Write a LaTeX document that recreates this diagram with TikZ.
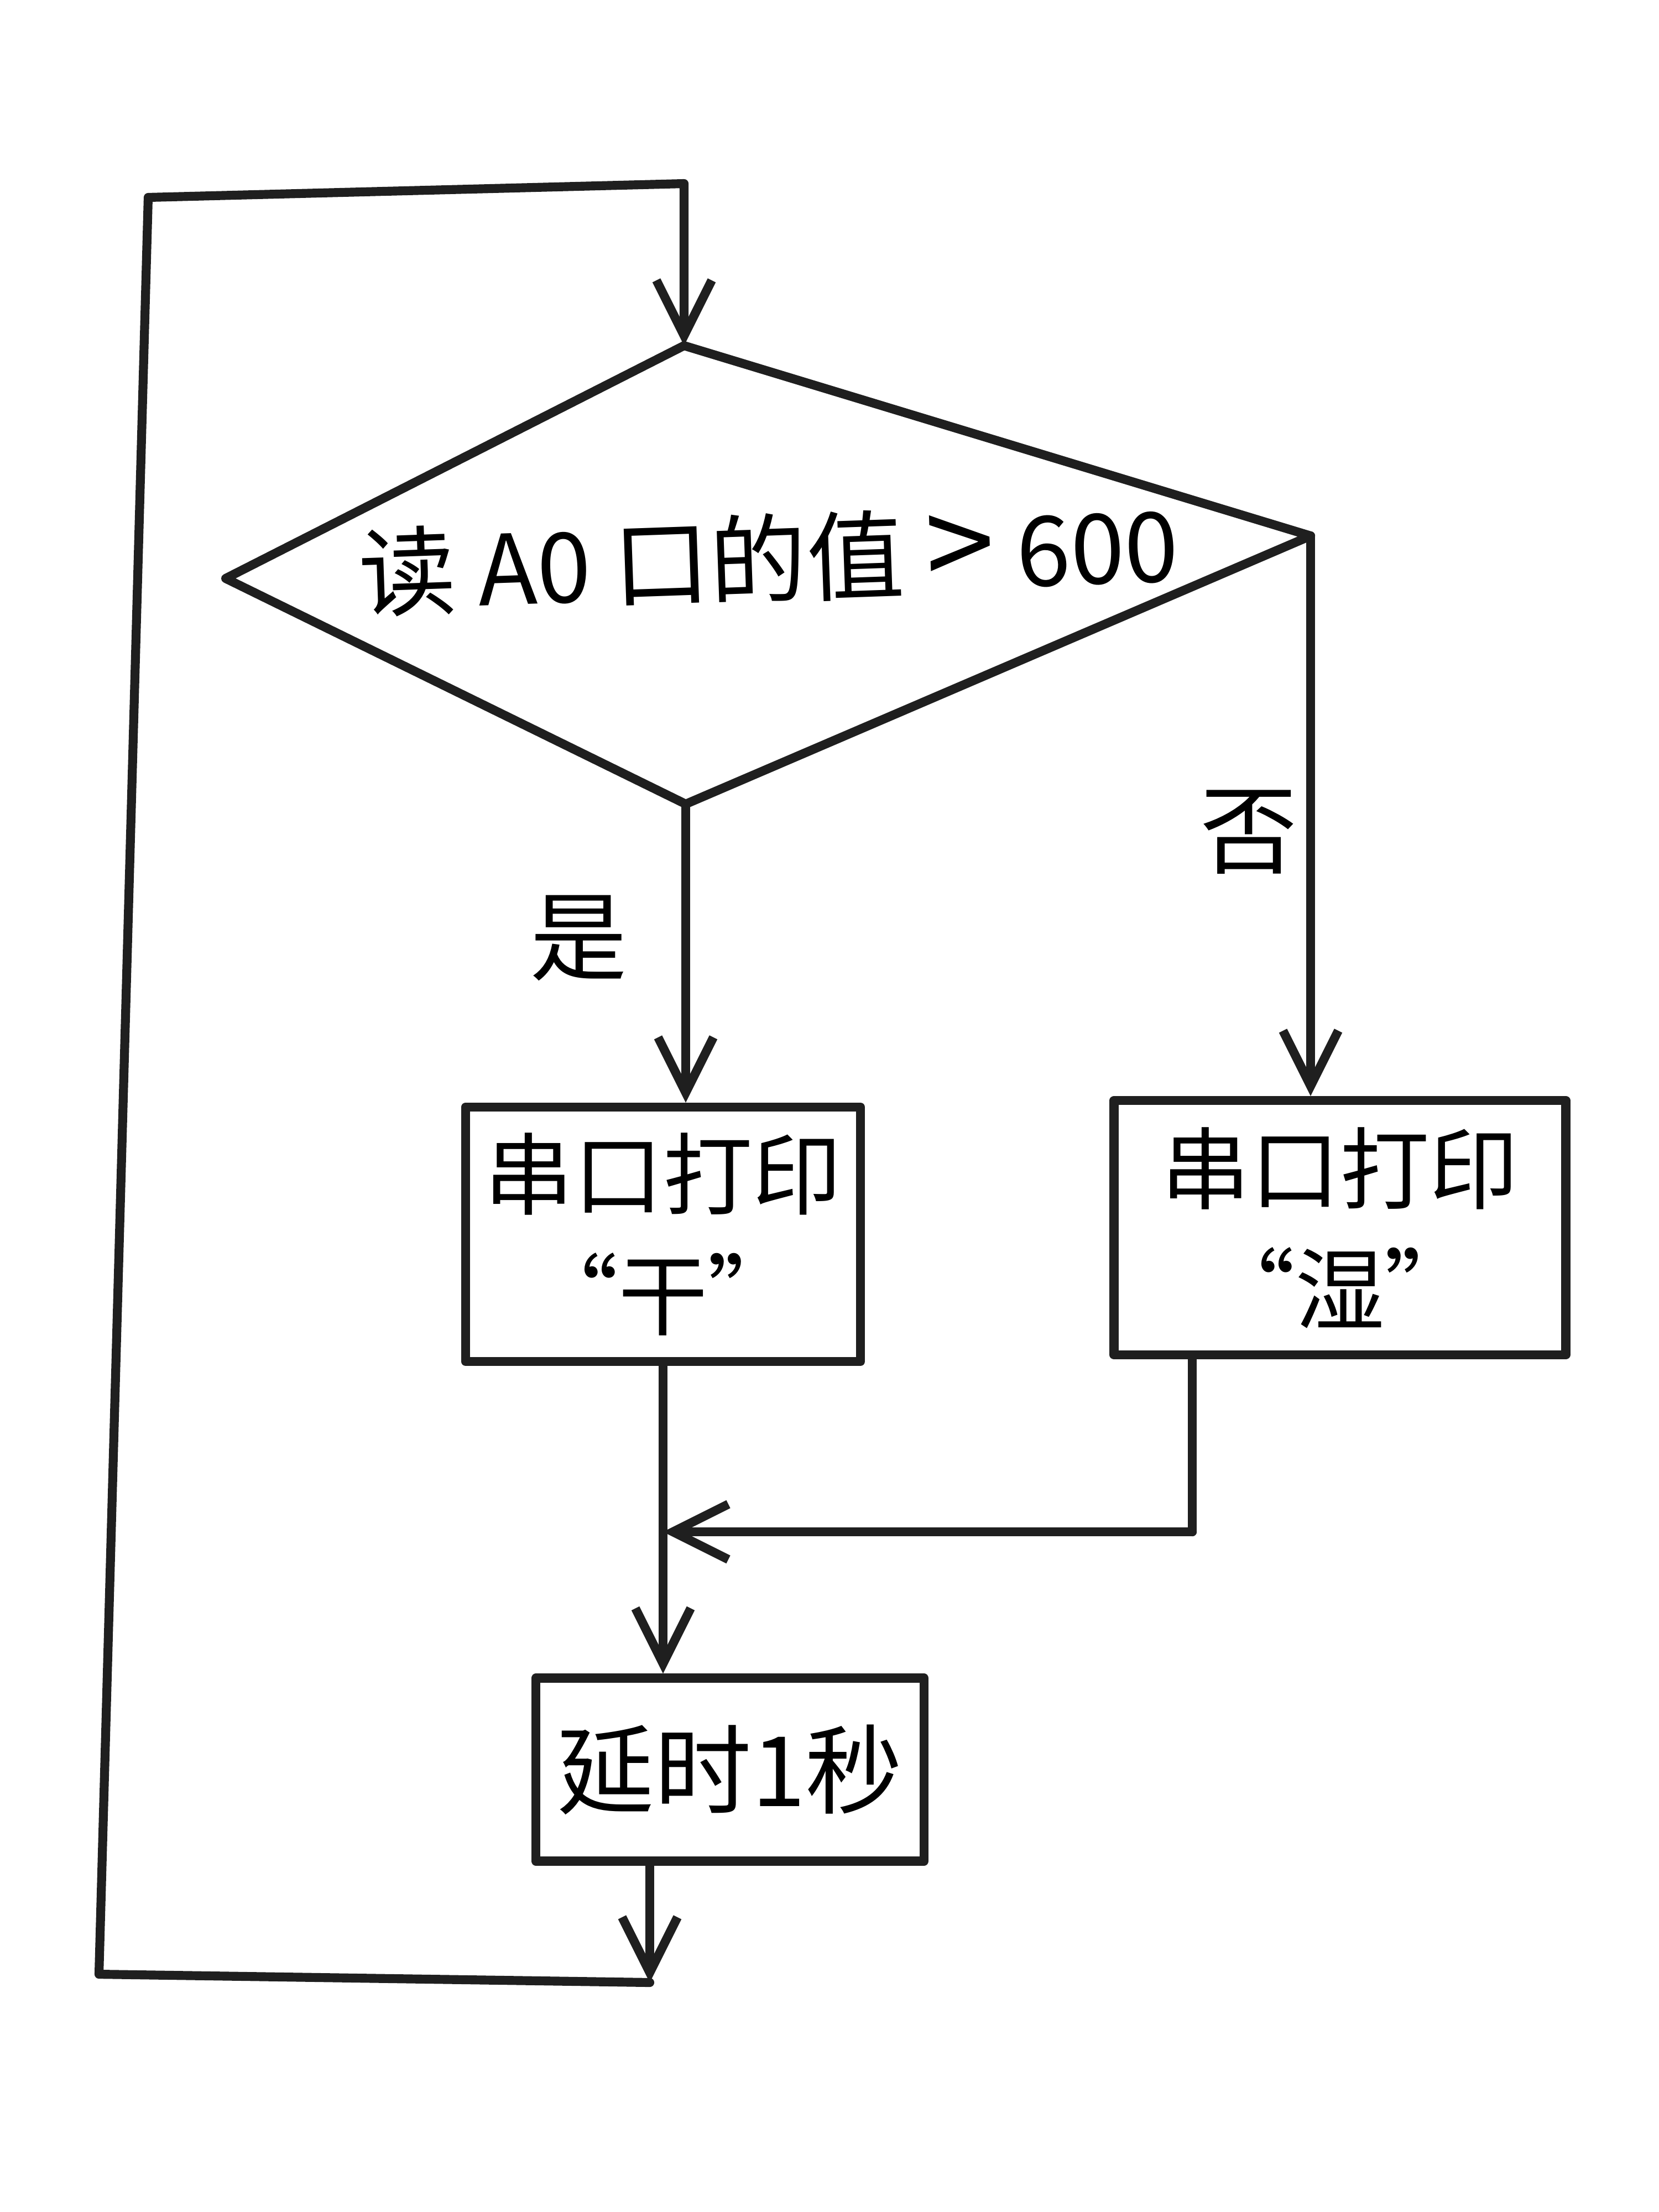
\documentclass[tikz,border=0pt]{standalone}
\usepackage{fontspec}
\setmainfont{Noto Sans CJK SC}
\usetikzlibrary{arrows.meta}
\begin{document}
\begin{tikzpicture}[
  ln/.style={line width=4.6pt, line cap=round, line join=round, draw=black!88},
  arr/.style={ln, -{Straight Barb[length=1.0cm, width=1.0cm, line width=4.6pt]}},
  proc/.style={ln, rectangle, align=center, inner sep=0pt, font=\fontsize{46}{62}\selectfont},
  lbl/.style={font=\fontsize{50}{60}\selectfont, inner sep=0pt}
]
\useasboundingbox[fill=white] (0,0) rectangle (30,-40);

% decision diamond
\coordinate (dT) at (12.37,-6.25);
\coordinate (dL) at (4.08,-10.46);
\coordinate (dR) at (23.7,-9.69);
\coordinate (dB) at (12.4,-14.54);
\draw[ln] (dT) -- (dR) -- (dB) -- (dL) -- cycle;
\node[lbl, rotate=2] (cond) at (13.9,-10.1) {读 A0 口的值 {\fontsize{64}{60}\selectfont >} 600};

% process boxes
\node[proc, minimum width=7.14cm, minimum height=4.6cm] (lbox) at (11.99,-22.32) {串口打印\\“干”};
\node[proc, minimum width=8.17cm, minimum height=4.6cm] (rbox) at (24.23,-22.2) {串口打印\\“湿”};
\node[proc, minimum width=7.02cm, minimum height=3.31cm, font=\fontsize{50}{60}\selectfont] (dbox) at (13.2,-32.0) {延时1秒};

% labels
\node[lbl] (yes) at (10.46,-16.96) {是};
\node[lbl] (no) at (22.58,-15.05) {否};

% branches
\draw[arr] (dB) -- (dB |- lbox.north);
\draw[arr] (dR) -- (dR |- rbox.north);

% merge
\coordinate (m1) at (21.56,-27.7);
\coordinate (m2) at (lbox.south |- m1);
\draw[ln] (rbox.south -| m1) -- (m1);
\draw[arr] (m1) -- (m2);
\draw[arr] (lbox.south) -- (lbox.south |- dbox.north);

% loop back
\coordinate (bot) at (11.75,-35.85);
\coordinate (lb) at (1.79,-35.7);
\coordinate (lt) at (2.68,-3.57);
\coordinate (tr) at (12.37,-3.32);
\draw[arr] (dbox.south -| bot) -- (bot);
\draw[arr] (bot) -- (lb) -- (lt) -- (tr) -- (dT);
\end{tikzpicture}
\end{document}
